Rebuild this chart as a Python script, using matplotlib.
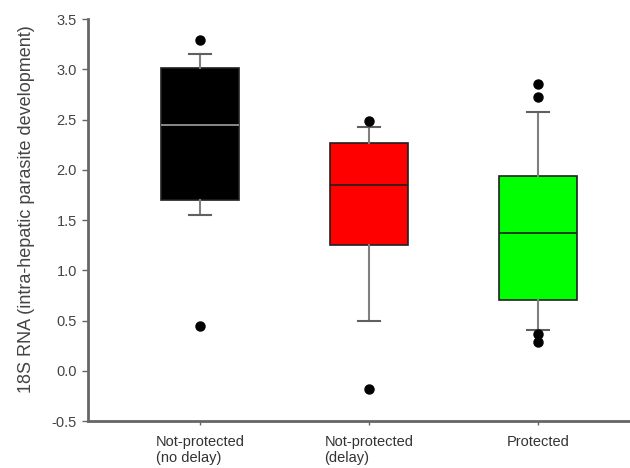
import matplotlib
matplotlib.use("Agg")
import matplotlib.pyplot as plt

plt.rcParams['font.family'] = ['Liberation Sans', 'DejaVu Sans']

groups = ['Not-protected\n(no delay)', 'Not-protected\n(delay)', 'Protected']
colors = ['#000000', '#ff0000', '#00ff00']
median_colors = ['#a0a0a0', '#202020', '#202020']

q1 = [1.70, 1.25, 0.70]
median = [2.45, 1.85, 1.37]
q3 = [3.01, 2.27, 1.94]
whislo = [1.55, 0.50, 0.41]
whishi = [3.15, 2.43, 2.57]
fliers = [[3.29, 0.45], [2.49, -0.18], [2.85, 2.72, 0.37, 0.29]]

stats = []
for i in range(len(groups)):
    stats.append({'q1': q1[i], 'med': median[i], 'q3': q3[i],
                  'whislo': whislo[i], 'whishi': whishi[i],
                  'fliers': fliers[i], 'label': groups[i]})

fig = plt.figure(figsize=(6.3, 4.68), dpi=100)
ax = fig.add_axes([0.1397, 0.1004, 0.8603, 0.859])

bp = ax.bxp(stats, positions=[1, 2, 3], widths=0.46, patch_artist=True,
            boxprops=dict(edgecolor='#202020', linewidth=1.2),
            whiskerprops=dict(color='#808080', linewidth=1.5),
            capprops=dict(color='#606060', linewidth=1.5),
            capwidths=0.13,
            flierprops=dict(marker='o', markerfacecolor='black',
                            markeredgecolor='black', markersize=6.5))
for patch, c in zip(bp['boxes'], colors):
    patch.set_facecolor(c)
for line, c in zip(bp['medians'], median_colors):
    line.set_color(c)
    line.set_linewidth(1.2)

ax.set_xlim(0.337, 3.544)
ax.set_ylim(-0.5, 3.5)
ax.set_yticks([-0.5, 0.0, 0.5, 1.0, 1.5, 2.0, 2.5, 3.0, 3.5])
ax.set_yticklabels(['-0.5', '0.0', '0.5', '1.0', '1.5', '2.0', '2.5', '3.0', '3.5'])
ax.set_xticklabels(groups, ha='center', multialignment='left')

ax.spines['top'].set_visible(False)
ax.spines['right'].set_visible(False)
for s in ['left', 'bottom']:
    ax.spines[s].set_color('#666666')
    ax.spines[s].set_linewidth(2)

ax.tick_params(axis='y', direction='out', length=4, width=1, color='#666666',
               labelsize=10.5, labelcolor='#444444', pad=4)
ax.tick_params(axis='x', direction='out', length=3, width=1, color='#666666',
               labelsize=10.5, labelcolor='#333333', pad=7)
ax.set_ylabel('18S RNA (intra-hepatic parasite development)', fontsize=13,
              color='#444444')
ax.yaxis.set_label_coords(-0.098, 0.527)

fig.savefig('out.png', dpi=100)
